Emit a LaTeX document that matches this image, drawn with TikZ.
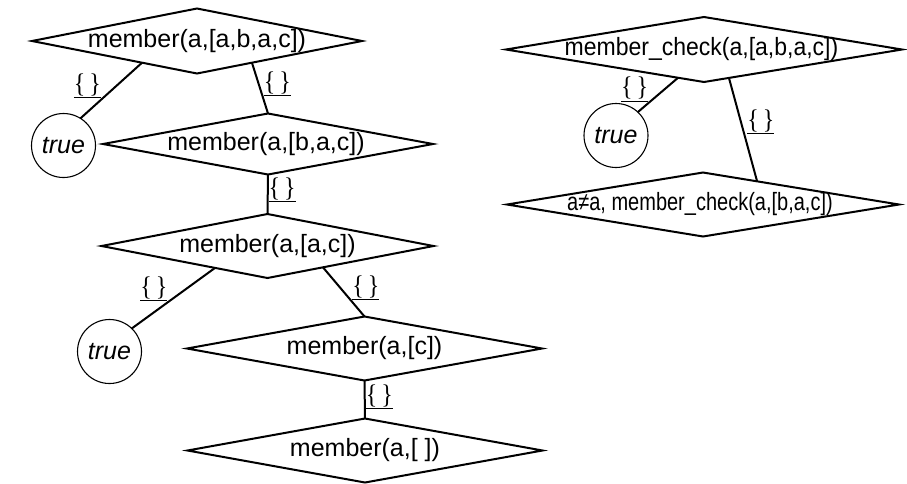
\documentclass[tikz,border=0pt]{standalone}
\usepackage{fontspec}
\setmainfont{Liberation Sans}
\newfontfamily\lblfont{Liberation Serif}
\usetikzlibrary{shapes.geometric,calc}
\tikzset{
  dia/.style={shape=diamond, draw, line width=2pt, inner sep=0pt, outer sep=0pt},
  goal/.style={inner sep=0pt, font=\fontsize{25}{30}\selectfont},
  leaf/.style={shape=circle, draw, line width=1.1pt, inner sep=0pt, outer sep=0pt,
    minimum size=64pt, font=\fontsize{25}{30}\selectfont\itshape},
  link/.style={line width=2pt},
  subst/.style={inner sep=0pt, font=\lblfont\fontsize{24}{28}\selectfont}
}
\newcommand{\emptysubst}{\underline{\scalebox{1}[1.12]{\{\hspace{4pt}\}}}}
\begin{document}
\begin{tikzpicture}[x=1pt,y=-1pt]
\useasboundingbox (0,0) rectangle (907,483);
% left tree
\node[dia, minimum width=330pt, minimum height=65pt] (d1) at (197,41) {};
\node[goal] (t1) at (197,41) {member(a,[a,b,a,c])};
\node[leaf] (c1) at (63.5,145.5) {true};
\node[dia, minimum width=330pt, minimum height=61pt] (d2) at (268,144) {};
\node[goal] (t2) at (266,144) {member(a,[b,a,c])};
\node[dia, minimum width=332pt, minimum height=64pt] (d3) at (267.5,246) {};
\node[goal] (t3) at (267.5,246) {member(a,[a,c])};
\node[leaf] (c2) at (109.5,351.5) {true};
\node[dia, minimum width=355pt, minimum height=64pt] (d4) at (364.5,348.5) {};
\node[goal] (t4) at (364.5,348.5) {member(a,[c])};
\node[dia, minimum width=355pt, minimum height=64pt] (d5) at (365,450.5) {};
\node[goal] (t5) at (365,450.5) {member(a,[ ])};
% right tree
\node[dia, minimum width=396pt, minimum height=65pt] (d6) at (704,49.5) {};
\node[goal] (t6) at (701.5,49.5) {\scalebox{0.92}[1]{member\_check(a,[a,b,a,c])}};
\node[leaf] (c3) at (616,135.5) {true};
\node[dia, minimum width=392pt, minimum height=64pt] (d7) at (703,204.5) {};
\node[goal] (t7) at (700,204) {\scalebox{0.8}[1]{a≠a, member\_check(a,[b,a,c])}};
% connectors
\draw[link] ($(d1.west)!0.667!(d1.south)$) -- (c1.58)
  node[subst, pos=0.65, anchor=south east] (s1) {\emptysubst};
\draw[link] ($(d1.south)!0.333!(d1.east)$) -- (d2.north)
  node[subst, pos=0.675, anchor=south west] (s2) {\emptysubst};
\draw[link] (d2.south) -- (d3.north)
  node[subst, pos=0.72, anchor=south west] (s3) {\emptysubst};
\draw[link] ($(d3.west)!0.684!(d3.south)$) -- (c2.46)
  node[subst, pos=0.56, anchor=south east] (s4) {\emptysubst};
\draw[link] ($(d3.south)!0.334!(d3.east)$) -- (d4.north)
  node[subst, pos=0.685, anchor=south west] (s5) {\emptysubst};
\draw[link] (d4.south) -- (d5.north)
  node[subst, pos=0.78, anchor=south west] (s6) {\emptysubst};
\draw[link] ($(d6.west)!0.869!(d6.south)$) -- (c3.47.5)
  node[subst, pos=0.72, anchor=south east] (s7) {\emptysubst};
\draw[link] ($(d6.south)!0.126!(d6.east)$) -- ($(d7.north)!0.276!(d7.east)$)
  node[subst, pos=0.55, anchor=south west, xshift=2pt] (s8) {\emptysubst};
\end{tikzpicture}
\end{document}
